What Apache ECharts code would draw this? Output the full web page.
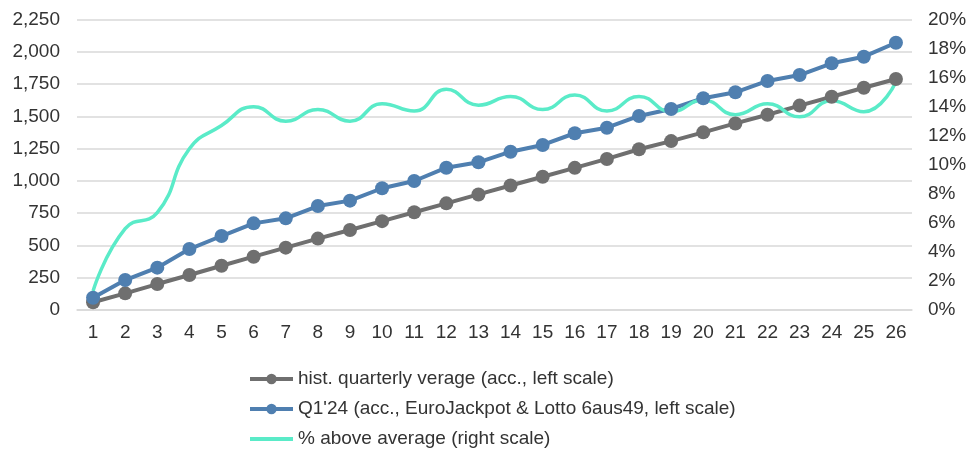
<!DOCTYPE html>
<html>
<head>
<meta charset="utf-8">
<script src="https://cdn.jsdelivr.net/npm/echarts@6/dist/echarts.min.js"></script>
<style>
html,body{margin:0;padding:0;background:#fff;}
#chart{width:970px;height:457px;}
</style>
</head>
<body>
<div id="chart"></div>
<script>
const categories = ['1','2','3','4','5','6','7','8','9','10','11','12','13','14','15','16','17','18','19','20','21','22','23','24','25','26'];
const histAverage = [60,129,201,271,343,413,483,553,620,688,757,826,895,964,1032,1101,1170,1245,1308,1376,1445,1512,1583,1652,1721,1789];
const q124 = [95,232,328,472,573,671,710,805,847,943,999,1102,1144,1226,1278,1369,1412,1503,1557,1640,1686,1774,1820,1911,1962,2070];
const pctAbove = [1.3,5.6,6.7,11.1,12.7,14.0,13.0,13.8,13.0,14.2,13.7,15.2,14.1,14.7,13.8,14.8,13.7,14.7,13.65,14.46,13.45,14.2,13.3,14.4,13.65,15.7];
const leftTicks = {min:0, max:2250, interval:250};
const rightTicks = {min:0, max:20, interval:2};
const seriesNames = ['hist. quarterly verage (acc., left scale)','Q1\'24 (acc., EuroJackpot & Lotto 6aus49, left scale)','% above average (right scale)'];

const chart = echarts.init(document.getElementById('chart'));
const txt = '#333333';
const font = 'Liberation Sans, Arial, sans-serif';
chart.setOption({
  animation:false,
  grid:{left:77,right:58,top:19.5,bottom:147},
  legend:{
    orient:'vertical', left:243, top:363, height:94,
    itemWidth:43, itemHeight:13, itemGap:8,
    lineStyle:{width:4},
    textStyle:{fontSize:19,color:txt,fontFamily:font,lineHeight:22},
    data:[seriesNames[0], seriesNames[1], {name:seriesNames[2], itemStyle:{opacity:0}}]
  },
  xAxis:{
    type:'category', data:categories, boundaryGap:true,
    axisLine:{lineStyle:{color:'#d9d9d9',width:1.5}},
    axisTick:{show:false},
    axisLabel:{color:txt,fontSize:19,fontFamily:font,margin:13}
  },
  yAxis:[{
    type:'value', min:leftTicks.min, max:leftTicks.max, interval:leftTicks.interval,
    axisLine:{show:false}, axisTick:{show:false},
    splitLine:{lineStyle:{color:'#d9d9d9',width:1.5}},
    axisLabel:{color:txt,fontSize:19,fontFamily:font,margin:17,
      formatter:v=>v.toLocaleString('en-US')}
  },{
    type:'value', min:rightTicks.min, max:rightTicks.max, interval:rightTicks.interval,
    position:'right',
    axisLine:{show:false}, axisTick:{show:false}, splitLine:{show:false},
    axisLabel:{color:txt,fontSize:19,fontFamily:font,margin:16,formatter:v=>v+'%'}
  }],
  series:[{
    name:seriesNames[0], type:'line', data:histAverage,
    yAxisIndex:0, symbol:'circle', symbolSize:14,
    itemStyle:{color:'#6f6f6f'}, lineStyle:{color:'#6f6f6f',width:4}
  },{
    name:seriesNames[1], type:'line', data:q124,
    yAxisIndex:0, symbol:'circle', symbolSize:14,
    itemStyle:{color:'#4f7fb0'}, lineStyle:{color:'#4f7fb0',width:4}
  },{
    name:seriesNames[2], type:'line', data:pctAbove,
    yAxisIndex:1, symbol:'none', smooth:0.5, z:3,
    itemStyle:{color:'#5aebc8'}, lineStyle:{color:'#5aebc8',width:3.5}
  }]
});
</script>
</body>
</html>
